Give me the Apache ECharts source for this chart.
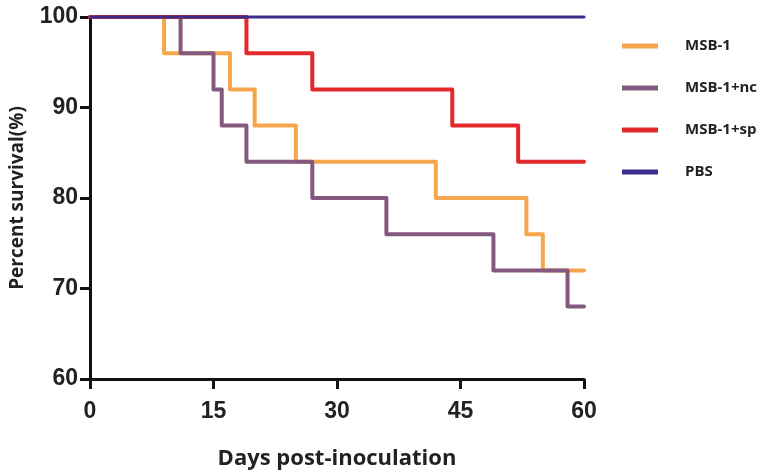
<!DOCTYPE html>
<html>
<head>
<meta charset="utf-8">
<script src="https://cdn.jsdelivr.net/npm/echarts@6/dist/echarts.min.js"></script>
<style>html,body{margin:0;padding:0;background:#fff;}#c{width:763px;height:475px;}</style>
</head>
<body>
<div id="c"></div>
<script>
const seriesNames = ['MSB-1', 'MSB-1+nc', 'MSB-1+sp', 'PBS'];
const msb1Days = [0, 9, 17, 20, 25, 42, 53, 55, 60];
const msb1Surv = [100, 96, 92, 88, 84, 80, 76, 72, 72];
const ncDays = [0, 11, 15, 16, 19, 27, 36, 49, 58, 60];
const ncSurv = [100, 96, 92, 88, 84, 80, 76, 72, 68, 68];
const spDays = [0, 19, 27, 44, 52, 60];
const spSurv = [100, 96, 92, 88, 84, 84];
const pbsDays = [0, 60];
const pbsSurv = [100, 100];
const xTicks = [0, 15, 30, 45, 60];
const yTicks = [60, 70, 80, 90, 100];

const colors = ['#F5A54C', '#84587F', '#E3292B', '#3B2C8C'];
const widths = [4, 4, 4, 3];
const allDays = [msb1Days, ncDays, spDays, pbsDays];
const allSurv = [msb1Surv, ncSurv, spSurv, pbsSurv];

const chart = echarts.init(document.getElementById('c'));
chart.setOption({
  animation: false,
  backgroundColor: '#fff',
  grid: { left: 89, right: 179, top: 17, bottom: 95 },
  legend: {
    orient: 'vertical', left: 617, top: 31,
    icon: 'rect', itemWidth: 36, itemHeight: 5, itemGap: 22,
    data: seriesNames,
    textStyle: { fontFamily: 'Open Sans', fontWeight: 'bold', fontSize: 15, color: '#222', lineHeight: 20, padding: [0, 0, 0, 22] }
  },
  xAxis: {
    type: 'value', min: xTicks[0], max: xTicks[xTicks.length - 1], interval: 15,
    name: 'Days post-inoculation', nameLocation: 'middle', nameGap: 69,
    nameTextStyle: { fontFamily: 'Open Sans', fontWeight: 'bold', fontSize: 22, color: '#222' },
    axisLine: { onZero: false, lineStyle: { color: '#111', width: 3 } },
    axisTick: { show: true, length: 10, lineStyle: { color: '#111', width: 3 } },
    axisLabel: { margin: 21, fontFamily: 'Liberation Sans', fontWeight: 'bold', fontSize: 23, color: '#222' },
    splitLine: { show: false }
  },
  yAxis: {
    type: 'value', min: yTicks[0], max: yTicks[yTicks.length - 1], interval: 10,
    name: 'Percent survival(%)', nameLocation: 'middle', nameGap: 63,
    nameTextStyle: { fontFamily: 'Open Sans', fontWeight: 'bold', fontSize: 19, color: '#222' },
    axisLine: { show: true, lineStyle: { color: '#111', width: 3 } },
    axisTick: { show: true, length: 10, lineStyle: { color: '#111', width: 3 } },
    axisLabel: { margin: 12, fontFamily: 'Liberation Sans', fontWeight: 'bold', fontSize: 23, color: '#222' },
    splitLine: { show: false }
  },
  series: seriesNames.map((n, i) => ({
    name: n, type: 'line', step: 'end', showSymbol: false, symbol: 'none', clip: false,
    color: colors[i],
    lineStyle: { color: colors[i], width: widths[i], cap: 'round', join: 'round' },
    data: allDays[i].map((d, j) => [d, allSurv[i][j]])
  }))
});
</script>
</body>
</html>
